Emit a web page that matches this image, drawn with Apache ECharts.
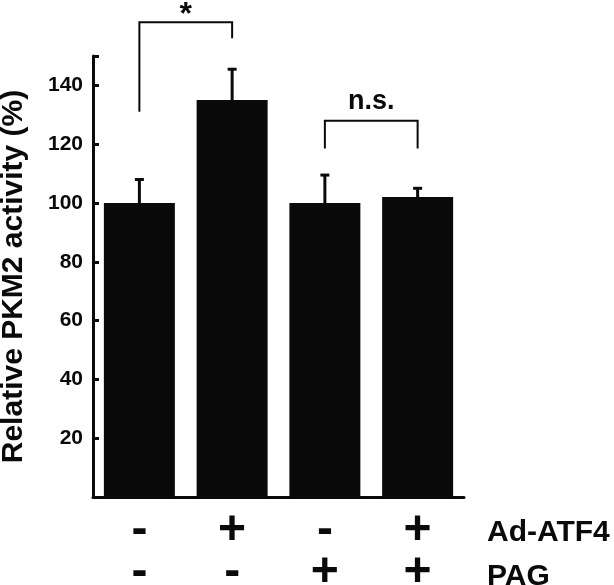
<!DOCTYPE html>
<html>
<head>
<meta charset="utf-8">
<script src="https://cdn.jsdelivr.net/npm/echarts@6/dist/echarts.min.js"></script>
<style>
    html, body { margin: 0; padding: 0; background: #fff; }
    #chart { width: 614px; height: 585px; }
</style>
</head>
<body>
<div id="chart"></div>
<script>
// groups: Ad-ATF4 / PAG treatment signs
const atf4Signs = ['-', '+', '-', '+'];
const pagSigns = ['-', '-', '+', '+'];
const rowNames = ['Ad-ATF4', 'PAG'];

const activity = [100, 135, 100, 102];
const errors = [8, 10.5, 9.5, 3];

const yTicks = [20, 40, 60, 80, 100, 120, 140];

// significance brackets: [from, to, leftLegBottom, top, rightLegBottom]
const brackets = [
    [0, 1, 131, 161.5, 156],
    [2, 3, 118.5, 128, 118.5]
];
const bracketLabels = ['*', 'n.s.'];

const FONT = '"Liberation Sans", Arial, Helvetica, sans-serif';
const INK = '#0a0a0a';

const chart = echarts.init(document.getElementById('chart'));

const option = {
    animation: false,
    grid: { left: 93, right: 150, top: 56, bottom: 88, outerBoundsMode: 'none', containLabel: false },
    xAxis: {
        type: 'category',
        data: atf4Signs.map((s, i) => i),
        axisLine: { lineStyle: { color: INK, width: 3 } },
        axisTick: { show: false },
        axisLabel: {
            margin: 13,
            color: INK,
            fontFamily: FONT,
            fontWeight: 'bold',
            fontSize: 48,
            lineHeight: 42,
            formatter: (v, i) => atf4Signs[i] + '\n' + pagSigns[i]
        }
    },
    yAxis: {
        type: 'value',
        min: 0,
        max: 150,
        interval: 20,
        name: 'Relative PKM2 activity (%)',
        nameLocation: 'middle',
        nameGap: 64,
        nameTextStyle: {
            color: INK,
            fontFamily: FONT,
            fontWeight: 'bold',
            fontSize: 30
        },
        splitLine: { show: false },
        axisLine: { show: true, lineStyle: { color: INK, width: 3 } },
        axisTick: { show: true, inside: true, length: 6, lineStyle: { color: INK, width: 3 } },
        axisLabel: {
            margin: 10,
            color: INK,
            fontFamily: FONT,
            fontWeight: 'bold',
            fontSize: 21,
            formatter: v => (yTicks.indexOf(v) >= 0 ? String(v) : '')
        }
    },
    graphic: rowNames.map((name, i) => ({
        type: 'text',
        left: 487,
        top: 518 + i * 44,
        style: {
            text: name,
            fill: INK,
            font: 'bold 30px ' + FONT
        }
    })),
    series: [
        {
            type: 'bar',
            data: activity,
            barWidth: 71,
            itemStyle: { color: INK }
        },
        {
            type: 'custom',
            clip: false,
            data: activity.map((v, i) => [i, v, errors[i]]),
            z: 3,
            renderItem: function (params, api) {
                const base = api.coord([api.value(0), api.value(1)]);
                const top = api.coord([api.value(0), api.value(1) + api.value(2)]);
                const style = { stroke: INK, lineWidth: 3 };
                return {
                    type: 'group',
                    children: [
                        { type: 'line', shape: { x1: base[0], y1: base[1], x2: top[0], y2: top[1] }, style: style },
                        { type: 'line', shape: { x1: top[0] - 4.5, y1: top[1], x2: top[0] + 4.5, y2: top[1] }, style: style }
                    ]
                };
            }
        },
        {
            type: 'custom',
            clip: false,
            data: brackets,
            z: 3,
            renderItem: function (params, api) {
                const a = api.coord([api.value(0), api.value(2)]);
                const b = api.coord([api.value(0), api.value(3)]);
                const c = api.coord([api.value(1), api.value(3)]);
                const d = api.coord([api.value(1), api.value(4)]);
                const label = bracketLabels[params.dataIndex];
                const isStar = label === '*';
                return {
                    type: 'group',
                    children: [
                        {
                            type: 'polyline',
                            shape: { points: [a, b, c, d] },
                            style: { stroke: INK, lineWidth: 2, fill: null }
                        },
                        {
                            type: 'text',
                            style: {
                                text: label,
                                x: (b[0] + c[0]) / 2,
                                y: b[1] - (isStar ? 7 : 19),
                                align: 'center',
                                verticalAlign: 'middle',
                                fill: INK,
                                font: 'bold ' + (isStar ? 32 : 27) + 'px ' + FONT
                            }
                        }
                    ]
                };
            }
        }
    ]
};

chart.setOption(option);
</script>
</body>
</html>
